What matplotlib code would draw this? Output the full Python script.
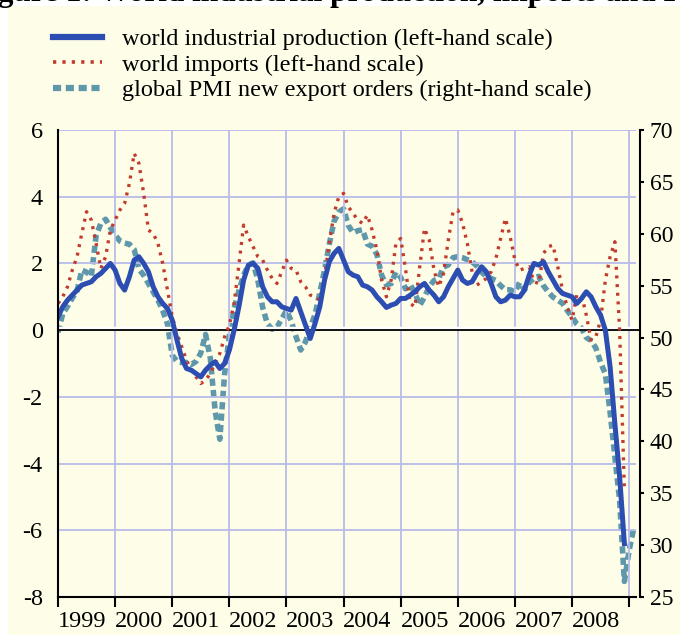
import numpy as np
import matplotlib
matplotlib.use('Agg')
import matplotlib.pyplot as plt
from matplotlib.lines import Line2D
from matplotlib.patches import Rectangle

plt.rcParams['font.family'] = ['Liberation Serif', 'DejaVu Serif']
plt.rcParams['axes.unicode_minus'] = False

# ---------------- data ----------------
years = list(range(1999, 2009))
year_labels = [str(y) for y in years]
left_ticks = [6, 4, 2, 0, -2, -4, -6, -8]
right_ticks = [70, 65, 60, 55, 50, 45, 40, 35, 30, 25]

title = 'Figure 1: World industrial production, imports and PMI'
series_labels = ['world industrial production (left-hand scale)',
                 'world imports (left-hand scale)',
                 'global PMI new export orders (right-hand scale)']

# world industrial production, monthly Jan 1999 - Dec 2008 (left scale)
ip = [0.4, 0.7, 0.9, 1.05, 1.2, 1.35, 1.4, 1.45, 1.6, 1.7, 1.85, 2.0,
      1.8, 1.4, 1.2, 1.6, 2.1, 2.2, 2.0, 1.75, 1.3, 1.0, 0.8, 0.65,
      0.3, -0.3, -0.85, -1.15, -1.2, -1.3, -1.4, -1.2, -1.05, -0.95, -1.15, -1.0,
      -0.6, 0.0, 0.7, 1.5, 1.95, 2.0, 1.85, 1.3, 1.0, 0.85, 0.85, 0.7,
      0.65, 0.6, 0.95, 0.55, 0.15, -0.25, 0.2, 0.7, 1.5, 2.05, 2.3, 2.45,
      2.1, 1.75, 1.65, 1.6, 1.35, 1.3, 1.2, 1.0, 0.85, 0.68, 0.75, 0.8,
      0.95, 0.95, 1.05, 1.15, 1.3, 1.4, 1.2, 1.05, 0.85, 1.0, 1.3, 1.55,
      1.8, 1.5, 1.4, 1.45, 1.7, 1.9, 1.75, 1.4, 1.0, 0.85, 0.9, 1.05,
      1.0, 1.0, 1.2, 1.65, 2.0, 1.95, 2.05, 1.75, 1.5, 1.25, 1.1, 1.05,
      1.0, 0.8, 0.95, 1.15, 1.0, 0.7, 0.45, 0.0, -1.1, -2.8, -4.4, -6.4]

# world imports, monthly Jan 1999 - Dec 2008 (left scale)
imp = [0.8, 1.0, 1.3, 1.8, 2.2, 2.9, 3.55, 3.3, 2.6, 1.85, 2.2, 3.0,
       3.3, 3.6, 3.8, 4.4, 5.3, 5.0, 4.1, 3.0, 2.9, 2.6, 2.0, 1.2,
       0.4, -0.1, -0.5, -0.9, -1.2, -1.4, -1.6, -1.5, -1.3, -1.0, -0.7, -0.2,
       0.15, 0.8, 1.95, 3.15, 2.8, 2.5, 2.2, 2.1, 1.8, 1.55, 1.4, 1.75,
       2.1, 1.85, 1.8, 1.45, 1.3, 1.05, 1.0, 0.9, 1.6, 2.6, 3.5, 4.0,
       4.1, 3.7, 3.5, 3.3, 3.2, 3.45, 3.0, 2.4, 1.5, 1.0, 1.5, 2.6,
       2.75, 1.85, 0.8, 0.7, 1.9, 3.05, 2.7, 1.8, 1.3, 1.7, 2.7, 3.55,
       3.6, 3.2, 2.6, 1.75, 1.35, 1.45, 1.55, 1.75, 2.15, 2.75, 3.35, 2.8,
       2.1, 1.8, 1.85, 1.9, 1.45, 1.4, 2.3, 2.5, 2.55, 1.9, 1.2, 0.7,
       0.3, 1.05, 1.05, 0.45, -0.3, -0.2, 0.3, 1.5, 2.2, 2.65, 0.0, -4.8]

# global PMI new export orders, monthly Jan 1999 - Feb 2009 (right scale)
pmi = [50.5, 52.3, 53.0, 53.8, 54.5, 56.5, 56.3, 55.9, 59.8, 61.0, 61.4, 60.6,
       59.9, 59.3, 59.1, 59.0, 58.5, 56.6, 56.0, 55.2, 54.4, 53.6, 52.6, 51.3,
       48.3, 47.7, 47.6, 47.6, 47.4, 47.7, 48.5, 50.3, 48.0, 43.0, 40.2, 46.5,
       50.2, 52.8, 54.5, 56.0, 57.0, 57.2, 55.5, 52.9, 51.3, 50.8, 51.0, 51.8,
       52.6, 51.6, 50.1, 48.8, 49.6, 51.0, 52.2, 54.3, 56.5, 59.0, 61.2, 62.1,
       62.4, 60.8, 60.1, 60.3, 60.4, 59.0, 58.8, 58.0, 56.0, 55.1, 55.2, 56.3,
       55.8, 54.7, 55.1, 54.3, 53.1, 53.9, 54.9, 55.5, 55.7, 56.8, 57.0, 57.7,
       57.8, 57.7, 57.5, 57.3, 56.9, 56.3, 55.9, 55.7, 55.5, 55.0, 54.6, 54.6,
       54.4, 55.3, 54.6, 55.3, 55.7, 55.9, 55.0, 54.4, 53.9, 53.6, 53.3, 52.6,
       52.0, 51.3, 50.9, 50.0, 49.7, 49.0, 47.6, 46.5, 42.8, 38.5, 34.3, 26.5,
       29.5, 31.7]

x_ip = 1999 + np.arange(len(ip)) / 12.0
x_imp = 1999 + np.arange(len(imp)) / 12.0
x_pmi = 1999 + np.arange(len(pmi)) / 12.0

# ---------------- style ----------------
cream = '#FEFDE8'
lav = '#B8BCEA'
blue = '#2C4DB2'
red = '#C23B2D'
teal = '#5F98AB'
FS = 17.5

fig = plt.figure(figsize=(6.8, 6.37), dpi=100, facecolor='white')
fig.patches.append(Rectangle((8 / 680, 2 / 637), 672 / 680, 629 / 637,
                             transform=fig.transFigure, facecolor=cream,
                             edgecolor='none', zorder=-10))

# title, cropped at the top edge as in the source image
fig.text(-30 / 680, 1 - 1.0 / 637, title,
         fontsize=22.5, fontweight='bold', ha='left', va='baseline', color='black')

ax = fig.add_axes([58 / 680, 1 - 597 / 637, 578 / 680, 467 / 637])
ax2 = ax.twinx()
ax.set_zorder(2)
ax2.set_zorder(1)
ax.patch.set_visible(False)
ax2.patch.set_visible(False)

ax.set_xlim(1999, 2009.12)
ax.set_ylim(-8, 6)
ax2.set_ylim(25, 70)

ax.set_axisbelow(True)
ax.grid(True, which='major', color=lav, lw=1.3)

ax.axhline(0.07, color='white', lw=2.5, zorder=1.4)
ax.axhline(0, color='black', lw=1.3, zorder=1.5, xmax=1.006, clip_on=False)

ax2.plot(x_pmi, pmi, color=teal, lw=4.0, linestyle=(0, (1.3, 0.75)),
         solid_capstyle='butt', dash_capstyle='butt')
ax.plot(x_imp, imp, color=red, lw=2.4, linestyle=(0, (0.9, 1.7)))
ax.plot(x_ip, ip, color=blue, lw=3.6, solid_joinstyle='round')

# left axis
ax.set_yticks(left_ticks)
ax.set_yticklabels([str(v) for v in left_ticks])
ax.tick_params(axis='y', length=0, pad=11, labelsize=FS)

# x axis
ax.set_xticks(list(range(1999, 2010)))
ax.set_xticklabels([])
ax.set_xticks([y + 0.42 for y in years], minor=True)
ax.set_xticklabels(year_labels, minor=True)
ax.tick_params(axis='x', which='major', direction='out', length=7, width=1.5)
ax.tick_params(axis='x', which='minor', length=0, pad=10, labelsize=FS)

for s in ['top', 'right']:
    ax.spines[s].set_visible(False)
for s in ['left', 'bottom']:
    ax.spines[s].set_linewidth(1.5)
    ax.spines[s].set_color('black')

# right axis
ax2.set_yticks(right_ticks)
ax2.set_yticklabels([str(v) for v in right_ticks])
ax2.tick_params(axis='y', direction='out', length=3, width=1.5, pad=4, labelsize=17)
for s in ['top', 'left', 'bottom']:
    ax2.spines[s].set_visible(False)
ax2.spines['right'].set_position(('outward', 3))
ax2.spines['right'].set_linewidth(1.5)

# legend
handles = [Line2D([], [], color=blue, lw=4.5),
           Line2D([], [], color=red, lw=2.6, linestyle=(0, (0.9, 1.7))),
           Line2D([], [], color=teal, lw=4.5, linestyle=(0, (1.3, 0.75)))]
fig.legend(handles, series_labels, loc='upper left',
           bbox_to_anchor=(53 / 680, 1 - 28 / 637), frameon=False, fontsize=FS,
           handlelength=2.0, handletextpad=0.82, labelspacing=0.15,
           borderpad=0, borderaxespad=0)

fig.savefig('out.png', dpi=100, facecolor='white')
